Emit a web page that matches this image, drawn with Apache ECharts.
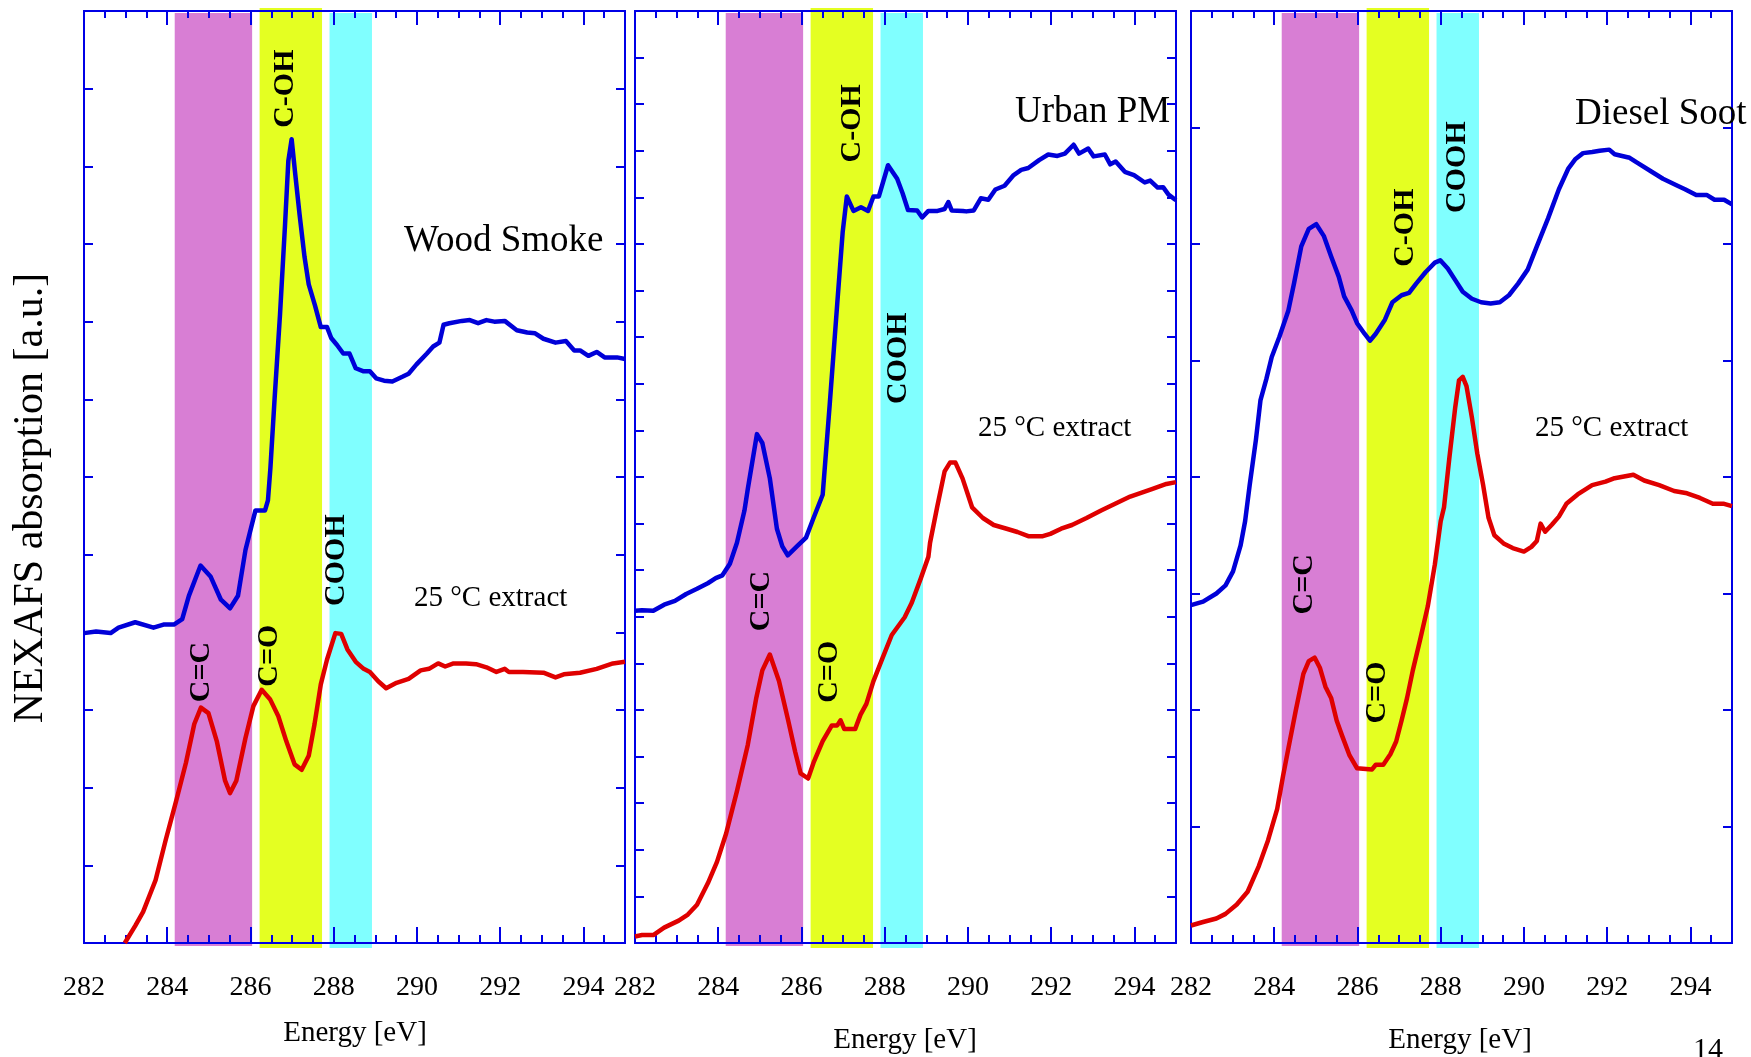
<!DOCTYPE html>
<html>
<head>
<meta charset="utf-8">
<title>NEXAFS spectra</title>
<script src="https://cdn.jsdelivr.net/npm/echarts@6/dist/echarts.min.js"></script>
<style>
  html, body { margin: 0; padding: 0; background: #ffffff; }
  #chart { width: 1751px; height: 1057px; }
</style>
</head>
<body>
<div id="chart"></div>
<script>
// ---- Spectra: [photon energy (eV), absorption (a.u.)] ----
const woodSmoke = [
  [282.0,3.99],[282.29,4.01],[282.64,3.99],[282.83,4.06],[283.23,4.13],[283.67,4.06],[283.91,4.10],[284.16,4.10],
  [284.36,4.17],[284.52,4.47],[284.80,4.86],[285.04,4.72],[285.29,4.42],[285.51,4.31],[285.70,4.47],[285.88,5.06],
  [286.12,5.57],[286.35,5.57],[286.42,5.70],[286.48,6.12],[286.58,7.01],[286.71,8.09],[286.83,9.24],[286.91,10.07],
  [286.99,10.35],[287.07,9.93],[287.18,9.38],[287.30,8.83],[287.40,8.48],[287.55,8.21],[287.69,7.93],[287.84,7.93],
  [287.94,7.79],[288.08,7.70],[288.23,7.59],[288.38,7.59],[288.53,7.40],[288.72,7.36],[288.87,7.36],[289.02,7.27],
  [289.21,7.24],[289.41,7.23],[289.65,7.29],[289.80,7.33],[289.99,7.45],[290.24,7.59],[290.39,7.68],[290.54,7.73],
  [290.64,7.96],[290.78,7.98],[291.08,8.01],[291.27,8.02],[291.47,7.98],[291.67,8.02],[291.86,8.00],[292.11,8.01],
  [292.40,7.89],[292.65,7.86],[292.84,7.85],[293.04,7.78],[293.33,7.73],[293.58,7.75],[293.78,7.63],[293.92,7.63],
  [294.12,7.56],[294.32,7.61],[294.51,7.54],[294.81,7.54],[295.0,7.52]
];
const woodSmokeExtract = [
  [282.98,0.0],[283.23,0.22],[283.42,0.40],[283.72,0.81],[283.96,1.32],[284.21,1.82],[284.45,2.32],[284.65,2.82],
  [284.81,3.03],[284.99,2.96],[285.19,2.60],[285.39,2.09],[285.51,1.93],[285.66,2.09],[285.88,2.64],[286.07,3.05],
  [286.27,3.26],[286.47,3.14],[286.67,2.92],[286.86,2.60],[287.06,2.30],[287.23,2.23],[287.40,2.41],[287.54,2.82],
  [287.69,3.33],[287.84,3.65],[288.04,3.99],[288.18,3.98],[288.33,3.78],[288.53,3.62],[288.72,3.53],[288.87,3.49],
  [289.07,3.37],[289.26,3.28],[289.51,3.35],[289.80,3.40],[290.09,3.51],[290.29,3.53],[290.51,3.60],[290.68,3.56],
  [290.88,3.60],[291.18,3.60],[291.42,3.59],[291.67,3.55],[291.91,3.49],[292.11,3.53],[292.21,3.49],[292.55,3.49],
  [293.04,3.48],[293.33,3.42],[293.53,3.46],[293.92,3.48],[294.32,3.53],[294.71,3.60],[295.0,3.62]
];
const urbanPM = [
  [282.0,7.13],[282.17,7.14],[282.44,7.13],[282.70,7.26],[282.96,7.34],[283.23,7.49],[283.49,7.60],[283.75,7.72],
  [283.94,7.83],[284.10,7.89],[284.28,8.14],[284.45,8.59],[284.63,9.28],[284.71,9.74],[284.93,10.92],[285.06,10.73],
  [285.24,9.97],[285.41,8.89],[285.54,8.51],[285.67,8.32],[285.89,8.51],[286.11,8.70],[286.29,9.12],[286.51,9.62],
  [286.68,11.57],[286.86,13.72],[286.99,15.25],[287.09,16.02],[287.25,15.71],[287.43,15.79],[287.60,15.71],[287.73,16.02],
  [287.86,16.02],[288.08,16.69],[288.30,16.40],[288.43,16.09],[288.56,15.73],[288.78,15.72],[288.90,15.57],[289.05,15.71],
  [289.27,15.71],[289.44,15.75],[289.53,15.90],[289.61,15.72],[289.88,15.71],[289.96,15.70],[290.14,15.72],[290.31,15.98],
  [290.49,15.95],[290.66,16.17],[290.88,16.25],[291.10,16.48],[291.28,16.59],[291.45,16.63],[291.71,16.80],[291.93,16.92],
  [292.15,16.89],[292.33,16.94],[292.54,17.13],[292.67,16.94],[292.89,17.05],[293.02,16.88],[293.29,16.92],[293.42,16.71],
  [293.55,16.77],[293.77,16.55],[293.99,16.48],[294.25,16.32],[294.38,16.36],[294.56,16.21],[294.69,16.22],[294.82,16.06],
  [295.0,15.94]
];
const urbanPMExtract = [
  [282.0,0.14],[282.17,0.17],[282.44,0.17],[282.70,0.33],[283.05,0.48],[283.27,0.61],[283.49,0.82],[283.75,1.28],
  [283.97,1.74],[284.19,2.35],[284.45,3.26],[284.71,4.25],[284.91,5.24],[285.06,5.85],[285.24,6.19],[285.46,5.62],
  [285.68,4.78],[285.85,4.10],[285.98,3.64],[286.16,3.53],[286.29,3.87],[286.51,4.33],[286.73,4.67],[286.86,4.67],
  [286.94,4.78],[287.03,4.59],[287.29,4.59],[287.42,4.90],[287.56,5.13],[287.73,5.62],[287.95,6.12],[288.17,6.61],
  [288.48,6.99],[288.65,7.30],[288.87,7.83],[289.05,8.29],[289.09,8.59],[289.26,9.35],[289.44,10.12],[289.57,10.31],
  [289.70,10.31],[289.87,9.97],[290.10,9.35],[290.36,9.12],[290.62,8.97],[290.93,8.89],[291.19,8.82],[291.45,8.73],
  [291.80,8.73],[291.98,8.78],[292.24,8.89],[292.50,8.97],[292.85,9.12],[293.20,9.28],[293.55,9.43],[293.90,9.58],
  [294.16,9.66],[294.42,9.74],[294.77,9.85],[295.0,9.89]
];
const dieselSoot = [
  [282.0,2.90],[282.29,2.93],[282.61,3.00],[282.83,3.07],[283.01,3.19],[283.19,3.41],[283.30,3.62],[283.41,3.93],
  [283.56,4.32],[283.67,4.66],[283.81,4.84],[283.94,5.03],[284.12,5.20],[284.34,5.43],[284.48,5.67],[284.65,5.98],
  [284.83,6.13],[285.01,6.17],[285.19,6.07],[285.37,5.89],[285.55,5.72],[285.68,5.55],[285.86,5.43],[285.99,5.32],
  [286.17,5.23],[286.30,5.17],[286.44,5.23],[286.66,5.35],[286.84,5.50],[287.06,5.56],[287.24,5.58],[287.41,5.66],
  [287.64,5.76],[287.86,5.84],[287.99,5.86],[288.17,5.79],[288.35,5.69],[288.53,5.59],[288.75,5.53],[288.97,5.50],
  [289.20,5.49],[289.42,5.50],[289.64,5.56],[289.86,5.66],[290.09,5.78],[290.31,5.98],[290.58,6.22],[290.84,6.47],
  [291.07,6.65],[291.24,6.73],[291.42,6.78],[291.64,6.79],[291.82,6.80],[292.05,6.81],[292.18,6.77],[292.54,6.74],
  [292.71,6.70],[293.07,6.62],[293.34,6.56],[293.69,6.50],[293.87,6.47],[294.14,6.42],[294.40,6.42],[294.58,6.38],
  [294.81,6.38],[295.0,6.34]
];
const dieselSootExtract = [
  [282.0,0.15],[282.29,0.18],[282.61,0.21],[282.83,0.25],[283.10,0.33],[283.36,0.44],[283.63,0.66],[283.85,0.88],
  [284.07,1.15],[284.21,1.43],[284.34,1.67],[284.52,2.00],[284.70,2.31],[284.83,2.42],[284.97,2.45],[285.10,2.36],
  [285.23,2.20],[285.37,2.10],[285.50,1.91],[285.63,1.78],[285.81,1.61],[285.99,1.50],[286.35,1.49],[286.44,1.53],
  [286.62,1.53],[286.79,1.62],[286.93,1.73],[287.06,1.91],[287.19,2.10],[287.33,2.34],[287.51,2.61],[287.69,2.89],
  [287.86,3.25],[288.00,3.62],[288.08,3.74],[288.21,4.17],[288.35,4.60],[288.44,4.83],[288.53,4.86],[288.62,4.78],
  [288.75,4.51],[288.88,4.20],[289.02,3.93],[289.15,3.65],[289.29,3.50],[289.51,3.43],[289.73,3.39],[290.00,3.36],
  [290.18,3.40],[290.31,3.45],[290.40,3.60],[290.51,3.53],[290.67,3.59],[290.84,3.66],[291.02,3.77],[291.29,3.85],
  [291.64,3.93],[291.96,3.96],[292.18,3.99],[292.63,4.02],[292.89,3.97],[293.25,3.93],[293.61,3.88],[293.92,3.86],
  [294.23,3.82],[294.54,3.77],[294.81,3.77],[295.0,3.75]
];

// Functional-group energy windows (eV): C=C, C=O / C-OH, COOH
const energyBands = [[284.18, 286.04], [286.22, 287.72], [287.90, 288.92]];

// Group labels, anchored in data coordinates [eV, a.u., text]
const woodSmokeGroups = [[286.83, 11.0, 'C-OH'], [288.06, 4.93, 'COOH'], [286.44, 3.70, 'C=O'], [284.81, 3.49, 'C=C']];
const urbanPMGroups = [[287.21, 17.59, 'C-OH'], [288.32, 12.55, 'COOH'], [285.04, 7.34, 'C=C'], [286.66, 5.82, 'C=O']];
const dieselSootGroups = [[288.39, 6.66, 'COOH'], [287.15, 6.14, 'C-OH'], [284.72, 3.08, 'C=C'], [286.48, 2.15, 'C=O']];

const sampleNames = ['Wood Smoke', 'Urban PM', 'Diesel Soot'];
const extractName = '25 \u00B0C extract';
const energyRange = [282, 295];
const absorptionMax = [12, 20, 8];

// ---- Styling ----
const SERIF = '"Liberation Serif", "Times New Roman", Times, serif';
const AXIS_BLUE = '#0000E6';
const SAMPLE_BLUE = '#0000D8';
const EXTRACT_RED = '#DF0000';
const BAND_COLORS = ['#D87ED4', '#E4FF22', '#80FFFF'];
const BAND_TOP_PAD = [2, -3, 2];
const BAND_BOTTOM_PAD = [3, 5, 5];

const GRID_LEFT = [84, 635, 1191];
const GRID_WIDTH = 541;
const GRID_TOP = 11;
const GRID_HEIGHT = 932;

const panels = [
  { sample: woodSmoke, extract: woodSmokeExtract, groups: woodSmokeGroups },
  { sample: urbanPM, extract: urbanPMExtract, groups: urbanPMGroups },
  { sample: dieselSoot, extract: dieselSootExtract, groups: dieselSootGroups }
];

const axisLineStyle = { color: AXIS_BLUE, width: 2 };

function energyAxis(gridIndex, position, interval, tickLen, withLabels) {
  return {
    gridIndex, type: 'value', position,
    min: energyRange[0], max: energyRange[1], interval,
    z: 3,
    axisLine: { show: true, onZero: false, lineStyle: axisLineStyle },
    axisTick: { show: true, inside: true, length: tickLen, lineStyle: axisLineStyle },
    axisLabel: withLabels ? {
      show: true, margin: 31, color: '#000', fontFamily: SERIF, fontSize: 28,
      formatter: v => (v % 2 === 0 ? String(v) : '')
    } : { show: false },
    splitLine: { show: false }
  };
}

function absorptionAxis(gridIndex, position, max) {
  return {
    gridIndex, type: 'value', position, min: 0, max, interval: 1, z: 3,
    axisLine: { show: true, onZero: false, lineStyle: axisLineStyle },
    axisTick: { show: true, inside: true, length: 9, lineStyle: axisLineStyle },
    axisLabel: { show: false },
    splitLine: { show: false }
  };
}

const grid = [], xAxis = [], yAxis = [], series = [];

panels.forEach((p, i) => {
  const yMax = absorptionMax[i];
  grid.push({ left: GRID_LEFT[i], top: GRID_TOP, width: GRID_WIDTH, height: GRID_HEIGHT, containLabel: false });
  // bottom: half-eV ticks, then long 2 eV ticks with labels; same on top without labels
  xAxis.push(energyAxis(i, 'bottom', 0.5, 8, false));
  xAxis.push(energyAxis(i, 'bottom', 2, 16, true));
  xAxis.push(energyAxis(i, 'top', 0.5, 7, false));
  xAxis.push(energyAxis(i, 'top', 2, 14, false));
  yAxis.push(absorptionAxis(i, 'left', yMax));
  yAxis.push(absorptionAxis(i, 'right', yMax));

  const xi = 4 * i, yi = 2 * i;

  // shaded energy windows
  series.push({
    type: 'custom', xAxisIndex: xi, yAxisIndex: yi, clip: false, silent: true, z: 1,
    data: energyBands.map((b, k) => [b[0], b[1], k]),
    encode: { x: [0, 1] },
    renderItem: (params, api) => {
      const k = api.value(2);
      const a = api.coord([api.value(0), yMax]);
      const b = api.coord([api.value(1), 0]);
      const top = a[1] + BAND_TOP_PAD[k];
      return {
        type: 'rect',
        shape: { x: a[0], y: top, width: b[0] - a[0], height: b[1] + BAND_BOTTOM_PAD[k] - top },
        style: { fill: BAND_COLORS[k] }
      };
    }
  });

  series.push({
    name: sampleNames[i], type: 'line', xAxisIndex: xi, yAxisIndex: yi, z: 4,
    data: p.sample, symbol: 'none', smooth: false,
    lineStyle: { color: SAMPLE_BLUE, width: 4.5, join: 'round' }
  });
  series.push({
    name: extractName, type: 'line', xAxisIndex: xi, yAxisIndex: yi, z: 4,
    data: p.extract, symbol: 'none', smooth: false,
    lineStyle: { color: EXTRACT_RED, width: 4.5, join: 'round' }
  });
});

function label(text, x, y, size, opts) {
  return Object.assign({
    type: 'text', x, y, z: 10, silent: true,
    style: {
      text, fill: '#000', font: size + 'px ' + SERIF,
      align: 'left', verticalAlign: 'middle', textAlign: 'left', textVerticalAlign: 'middle'
    }
  }, opts || {});
}
function centered(el) {
  el.style.align = 'center'; el.style.textAlign = 'center';
  return el;
}

const chart = echarts.init(document.getElementById('chart'), null, { renderer: 'canvas' });
chart.setOption({
  backgroundColor: '#ffffff',
  animation: false,
  grid, xAxis, yAxis, series
});

const graphic = [
  label(sampleNames[0], 404, 241, 37),
  label(sampleNames[1], 1015, 112, 37),
  label(sampleNames[2], 1575, 114, 37),
  label(extractName, 414, 598, 29),
  label(extractName, 978, 428, 29),
  label(extractName, 1535, 428, 29),
  centered(label('Energy [eV]', 355, 1033, 29)),
  centered(label('Energy [eV]', 905, 1040, 29)),
  centered(label('Energy [eV]', 1460, 1040, 29)),
  centered(label('NEXAFS absorption [a.u.]', 31, 498, 42, { rotation: Math.PI / 2 })),
  label('14', 1693, 1050, 30)
];

// rotated functional-group labels, placed through each panel's own axes
panels.forEach((p, i) => {
  p.groups.forEach(g => {
    const pt = chart.convertToPixel({ xAxisIndex: 4 * i, yAxisIndex: 2 * i }, [g[0], g[1]]);
    const el = centered(label(g[2], pt[0], pt[1], 30, { rotation: Math.PI / 2 }));
    el.style.font = 'bold 30px ' + SERIF;
    graphic.push(el);
  });
});

chart.setOption({ graphic });
</script>
</body>
</html>
